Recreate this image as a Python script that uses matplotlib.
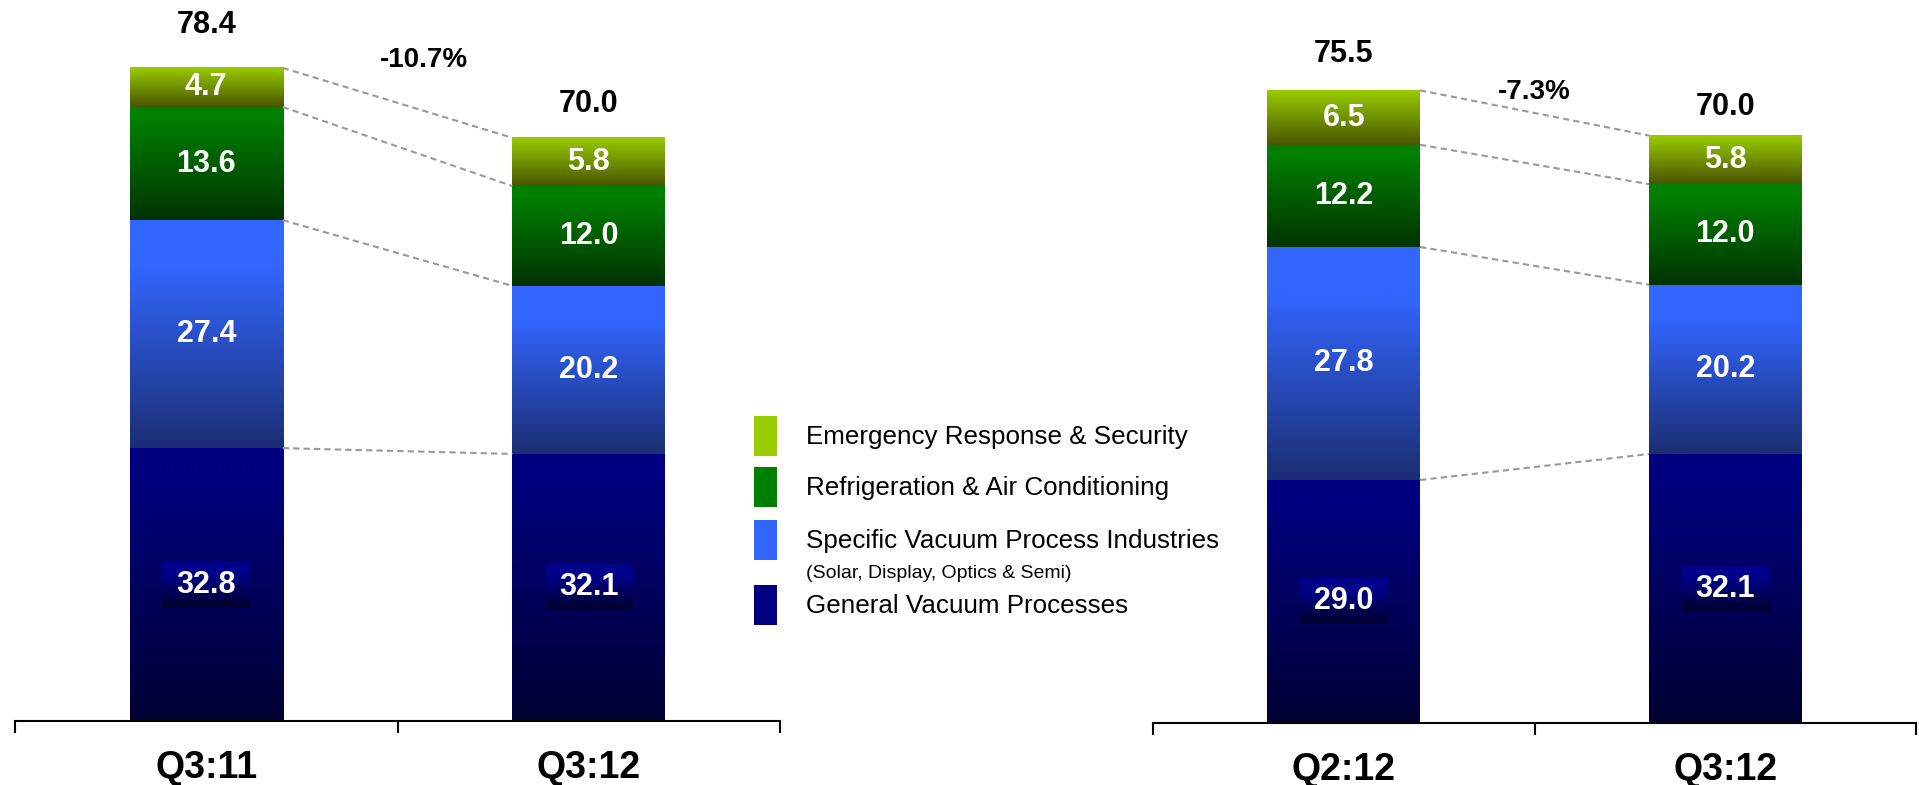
import matplotlib
matplotlib.use('Agg')
import numpy as np
import matplotlib.pyplot as plt
from matplotlib.colors import to_rgb
from matplotlib.patches import Rectangle

plt.rcParams['font.family'] = ['Liberation Sans', 'DejaVu Sans']

# ---------------- data ----------------
segments = ['General Vacuum Processes',
            'Specific Vacuum Process Industries',
            'Refrigeration & Air Conditioning',
            'Emergency Response & Security']
segment_note = '(Solar, Display, Optics & Semi)'

left_periods = ['Q3:11', 'Q3:12']
left_general = [32.8, 32.1]
left_specific = [27.4, 20.2]
left_refrig = [13.6, 12.0]
left_emergency = [4.7, 5.8]
left_totals = [78.4, 70.0]
left_change = '-10.7%'

right_periods = ['Q2:12', 'Q3:12']
right_general = [29.0, 32.1]
right_specific = [27.8, 20.2]
right_refrig = [12.2, 12.0]
right_emergency = [6.5, 5.8]
right_totals = [75.5, 70.0]
right_change = '-7.3%'

# ---------------- style ----------------
seg_top = ['#000080', '#3366FF', '#008000', '#99CC00']
seg_bottom = ['#000033', '#1B2E72', '#003300', '#4A5500']
seg_hold = [0.1, 0.2, 0.1, 0.0]
DPI = 100
W, H = 1919, 785

fig = plt.figure(figsize=(W / DPI, H / DPI), dpi=DPI)


def gradient(top, bottom, hold, n=256):
    t = np.linspace(0, 1, n)
    f = np.clip((t - hold) / (1 - hold), 0, 1)[:, None]
    c = np.array(to_rgb(top))[None, :] * (1 - f) + np.array(to_rgb(bottom))[None, :] * f
    return c[:, None, :]


def panel(rect, periods, series, totals, change, change_xy, tot_off, px_per_unit):
    ax = fig.add_axes(rect)
    ax_h_px = rect[3] * H
    ymax = ax_h_px / px_per_unit
    x_px_per_unit = rect[2] * W / 2.0
    x = np.arange(len(periods))
    bottoms = np.zeros(len(periods))
    bar_groups = []
    for i, vals in enumerate(series):
        bars = ax.bar(x, vals, width=0.4, bottom=bottoms, color=seg_top[i],
                      linewidth=0, zorder=1)
        bar_groups.append(bars)
        for p, v in zip(bars.patches, vals):
            x0, w, y0, h = p.get_x(), p.get_width(), p.get_y(), p.get_height()
            ax.imshow(gradient(seg_top[i], seg_bottom[i], seg_hold[i]),
                      extent=(x0, x0 + w, y0, y0 + h), origin='upper',
                      aspect='auto', interpolation='bilinear', zorder=2)
            xc, yc = x0 + w / 2, y0 + h / 2
            if i == 0:
                bw = 88 / x_px_per_unit
                bh = 46 / px_per_unit
                ax.imshow(gradient('#00008a', '#00002c', 0.25),
                          extent=(xc - bw / 2, xc + bw / 2, yc - bh / 2, yc + bh / 2),
                          origin='upper', aspect='auto', interpolation='bilinear',
                          zorder=3)
            ax.text(xc, yc, f'{v:.1f}', ha='center', va='center',
                    color='white', fontsize=22, fontweight='bold', zorder=4)
        bottoms = bottoms + np.array(vals)

    # dashed connectors between segment boundaries
    levels = np.cumsum(np.array(series), axis=0)
    pl = bar_groups[0].patches[0]
    pr = bar_groups[0].patches[1]
    xa = pl.get_x() + pl.get_width()
    xb = pr.get_x()
    for lv in levels:
        ax.plot([xa, xb], [lv[0], lv[1]], color='#999999', lw=1.5,
                linestyle=(0, (3, 2)), zorder=3)

    # totals
    for xi, top, tot, off in zip(x, bottoms, totals, tot_off):
        ax.annotate(f'{tot:.1f}', xy=(xi, top), xytext=(0, off),
                    textcoords='offset points', ha='center', va='center',
                    fontsize=22, fontweight='bold', color='black')
    ax.text(change_xy[0], change_xy[1], change, ha='center', va='center',
            fontsize=20, fontweight='bold', color='black')

    ax.set_xlim(-0.5, 1.5)
    ax.set_ylim(0, ymax)
    ax.set_xticks([-0.5, 0.5, 1.5])
    ax.set_xticks(x, labels=periods, minor=True)
    ax.tick_params(axis='x', which='major', length=8.6, width=1.5,
                   direction='out', labelbottom=False, color='black')
    ax.tick_params(axis='x', which='minor', length=0, pad=21, labelsize=27)
    for lbl in ax.get_xticklabels(minor=True):
        lbl.set_fontweight('bold')
    ax.set_yticks([])
    for s in ['left', 'right', 'top']:
        ax.spines[s].set_visible(False)
    ax.spines['bottom'].set_linewidth(1.5)
    ax.spines['bottom'].set_color('black')
    ax.set_facecolor('none')
    return ax


panel([15 / W, 64 / H, 765 / W, 721 / H], left_periods,
      [left_general, left_specific, left_refrig, left_emergency],
      left_totals, left_change, (0.569, 79.4), [31, 24], 8.32)
panel([1153 / W, 62 / H, 763 / W, 723 / H], right_periods,
      [right_general, right_specific, right_refrig, right_emergency],
      right_totals, right_change, (0.5, 75.3), [26, 20.5], 8.38)

# ---------------- legend (manual) ----------------
leg_y = [436, 487, 540, 605]           # top -> bottom item centres (px)
order = [3, 2, 1, 0]
for yc, k in zip(leg_y, order):
    fig.patches.append(Rectangle((754 / W, 1 - (yc + 20) / H), 23 / W, 40 / H,
                                 transform=fig.transFigure, facecolor=seg_top[k],
                                 edgecolor='none'))
    fig.text(806 / W, 1 - (yc + 1) / H, segments[k], ha='left', va='center',
             fontsize=18.7, color='black')
fig.text(806 / W, 1 - 573 / H, segment_note, ha='left', va='center',
         fontsize=14, color='black')

fig.savefig('out.png', dpi=DPI, facecolor='white')
